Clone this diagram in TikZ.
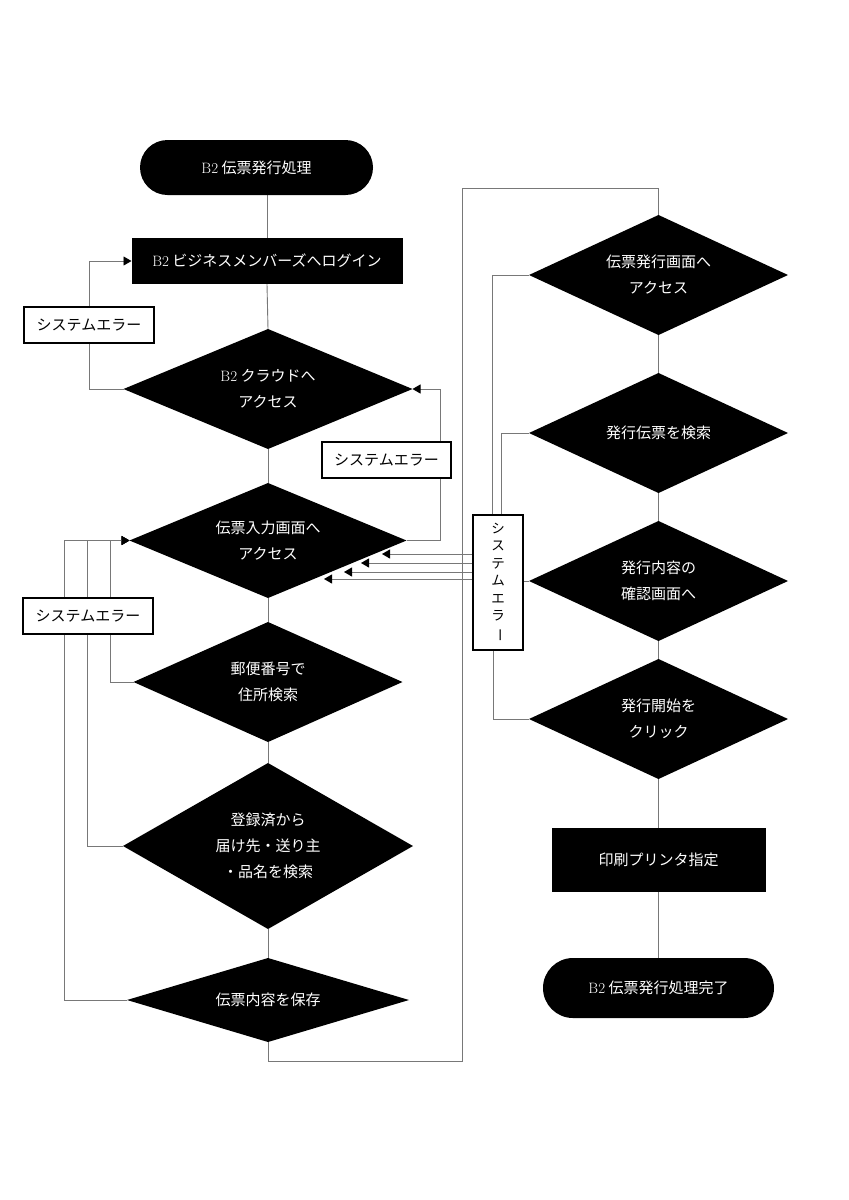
\documentclass[tikz,border=0pt]{standalone}
\usepackage{fontspec}
\usepackage{graphicx}
\newfontfamily\cjk{Noto Sans CJK JP}
\usetikzlibrary{shapes.geometric,arrows.meta}
\pgfdeclarelayer{bg}
\pgfsetlayers{bg,main}
\definecolor{lncol}{RGB}{120,120,120}
\newcommand\Btwo{{\rmfamily B2}}
\begin{document}
\begin{tikzpicture}[x=1pt,y=-1pt,
  every node/.style={inner sep=0pt,outer sep=0pt},
  txt/.style={font=\cjk\fontsize{15}{26}\selectfont,align=center},
  dia/.style={diamond,aspect=2.5,fill=black,text=white,txt},
  blk/.style={rectangle,fill=black,text=white,txt},
  term/.style={rectangle,fill=black,text=white,txt},
  err/.style={rectangle,draw=black,line width=1.5pt,fill=white,txt},
  ln/.style={draw=lncol,line width=0.9pt},
  arr/.style={ln,-{Triangle[length=8pt,width=9pt,color=black]}}
]
\useasboundingbox (0,0) rectangle (849,1200);

% left column
\node[term,rounded corners=27.5pt,minimum width=233,minimum height=55] (start) at (256.5,167.5) {\Btwo\ 伝票発行処理};
\node[blk,minimum width=271,minimum height=46] (login) at (267,261) {\Btwo\ ビジネスメンバーズへログイン};
\node[dia,minimum width=289,minimum height=120] (d1) at (268,389) {\Btwo\ クラウドへ\\アクセス};
\node[dia,minimum width=277,minimum height=115] (d2) at (268,540.5) {伝票入力画面へ\\アクセス};
\node[dia,minimum width=269,minimum height=120] (d3) at (268,682) {郵便番号で\\住所検索};
\node[dia,minimum width=290,minimum height=166] (d4) at (268,846) {登録済から\\届け先・送り主\\・品名を検索};
\node[dia,minimum width=282,minimum height=84] (d5) at (268,1000) {伝票内容を保存};

\node[err,minimum width=130,minimum height=36] (err1) at (89,325) {システムエラー};
\node[err,minimum width=129,minimum height=36] (err2) at (386.5,460) {システムエラー};
\node[err,minimum width=130,minimum height=36] (err3) at (88,616) {システムエラー};
\node[err,minimum width=50,minimum height=135,font=\cjk\fontsize{13.5}{17.5}\selectfont] (err4) at (498,582.5)
  {シ\\ス\\テ\\ム\\エ\\ラ\\\rotatebox[origin=c]{-90}{ー}};

% right column
\node[dia,minimum width=259,minimum height=120] (d6) at (658.5,275) {伝票発行画面へ\\アクセス};
\node[dia,minimum width=259,minimum height=120] (d7) at (658.5,433) {発行伝票を検索};
\node[dia,minimum width=259,minimum height=120] (d8) at (658.5,581) {発行内容の\\確認画面へ};
\node[dia,minimum width=259,minimum height=120] (d9) at (658.5,719) {発行開始を\\クリック};
\node[blk,minimum width=214,minimum height=64] (prn) at (658.5,860) {印刷プリンタ指定};
\node[term,rounded corners=30pt,minimum width=231,minimum height=60] (end) at (658.5,988) {\Btwo\ 伝票発行処理完了};

% helper coordinates
\coordinate (c64) at (64,0);
\coordinate (c87) at (87,0);
\coordinate (c110) at (110,0);
\coordinate (c440) at (440,0);
\coordinate (c492) at (492,0);
\coordinate (c501) at (501,0);
\coordinate (c493) at (493,0);
\coordinate (loopB) at (268,1061);
\coordinate (loopT) at (462,188);
\coordinate (t1) at (382,554);
\coordinate (t2) at (361,563);
\coordinate (t3) at (344,572);
\coordinate (t4) at (324,579);

\begin{pgfonlayer}{bg}
% main flow
\draw[ln] (start.south -| login.north) -- (login.north);
\draw[ln] (login.south) -- (d1.north);
\draw[ln] (d1.south) -- (d2.north);
\draw[ln] (d2.south) -- (d3.north);
\draw[ln] (d3.south) -- (d4.north);
\draw[ln] (d4.south) -- (d5.north);
\draw[ln] (d5.south) -- (loopB) -| (loopT) -| (d6.north);
\draw[ln] (d6.south) -- (d7.north);
\draw[ln] (d7.south) -- (d8.north);
\draw[ln] (d8.south) -- (d9.north);
\draw[ln] (d9.south) -- (prn.north);
\draw[ln] (prn.south) -- (end.north);
% error loops, left
\draw[ln] (d1.west) -| (err1.south);
\draw[arr] (err1.north) |- (login.west);
\draw[ln] (d2.east) -| (c440 |- err2.south);
\draw[arr] (c440 |- err2.north) |- (d1.east);
\draw[ln] (d3.west) -| (c110 |- err3.south);
\draw[arr] (c110 |- err3.north) |- (d2.west);
\draw[arr] (d4.west) -| (c87 |- d2.west) -- (d2.west);
\draw[arr] (d5.west) -| (c64 |- d2.west) -- (d2.west);
% error loops, right
\draw[ln] (c492 |- err4.north) |- (d6.west);
\draw[ln] (c501 |- err4.north) |- (d7.west);
\draw[ln] (err4.east |- d8.west) -- (d8.west);
\draw[ln] (c493 |- err4.south) |- (d9.west);
\draw[arr] (err4.west |- t1) -- (t1);
\draw[arr] (err4.west |- t2) -- (t2);
\draw[arr] (err4.west |- t3) -- (t3);
\draw[arr] (err4.west |- t4) -- (t4);
\end{pgfonlayer}
\end{tikzpicture}
\end{document}
